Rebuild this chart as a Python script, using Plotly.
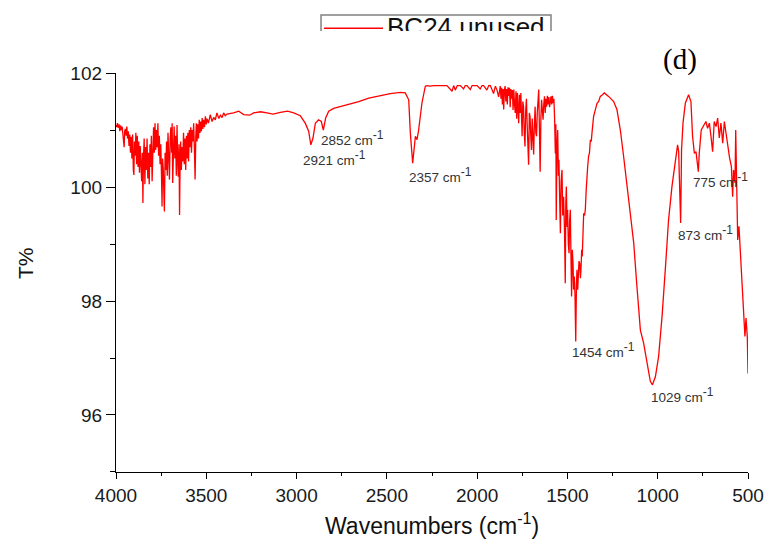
import plotly.graph_objects as go

# FTIR spectrum of BC24 (unused): wavenumber (cm-1) and transmittance (%)
wavenumber = [
    # O-H stretching region
    4000, 3996, 3992, 3988, 3983, 3979, 3975, 3970, 3966, 3962, 3958, 3955, 3952, 3948, 3944,
    3940, 3936, 3932, 3928, 3924, 3920, 3916, 3912, 3908, 3904, 3901, 3898, 3894, 3890, 3886,
    3882, 3878, 3874, 3870, 3866, 3862, 3858, 3854, 3851, 3848, 3844, 3840, 3836, 3832, 3828,
    3824, 3820, 3816, 3812, 3808, 3804, 3800, 3796, 3792, 3788, 3784, 3780, 3776, 3772, 3768,
    3764, 3760, 3756, 3752, 3748, 3745, 3742, 3738, 3735, 3732, 3728, 3724, 3720, 3716, 3712,
    3708, 3704, 3700, 3696, 3692, 3689, 3686, 3682, 3678, 3674, 3670, 3666, 3662, 3658, 3655,
    3651, 3648, 3645, 3642, 3638, 3634, 3630, 3626, 3622, 3618, 3614, 3610, 3606, 3602, 3598,
    3594, 3590, 3586, 3582, 3578, 3574, 3570, 3566, 3562, 3558, 3555, 3551, 3547, 3543, 3539,
    3535, 3531, 3527, 3523, 3519, 3515, 3510, 3505, 3500, 3496, 3488, 3478, 3468, 3459, 3450,
    3441, 3430, 3422, 3412, 3404, 3395, 3385, 3349, 3320, 3293, 3260, 3238, 3200, 3164, 3130,
    3090, 3050, 3016, 2979, 2952, 2933, 2921, 2909, 2896, 2878, 2863, 2852, 2839, 2822, 2795,
    2721, 2656, 2600, 2555, 2481, 2425, 2398, 2379, 2370, 2357, 2350, 2342, 2333, 2324, 2306,
    2287, 2278, 2259, 2241, 2222, 2190, 2167, 2139, 2130, 2121, 2110, 2093, 2075, 2066, 2056,
    2038, 2028, 2019, 2000, 1983, 1973, 1964, 1946, 1936, 1927, 1909, 1899, 1890, 1881,
    # C=O / aromatic region
    1872, 1868, 1864, 1860, 1856, 1853, 1849, 1845, 1841, 1837, 1833, 1829, 1825, 1821, 1817,
    1813, 1809, 1805, 1801, 1797, 1793, 1789, 1785, 1781, 1777, 1773, 1770, 1766, 1762, 1758,
    1754, 1751, 1747, 1743, 1739, 1735, 1731, 1727, 1723, 1719, 1715, 1711, 1707, 1703, 1699,
    1695, 1691, 1687, 1683, 1679, 1675, 1671, 1667, 1663, 1659, 1655, 1651, 1647, 1643, 1639,
    1635, 1631, 1627, 1623, 1619, 1615, 1611, 1607, 1603, 1599, 1595, 1591, 1587, 1583, 1579,
    1575, 1571, 1567, 1564, 1562, 1558, 1554, 1550, 1547, 1543, 1539, 1535, 1530, 1526, 1521,
    1516, 1512, 1509, 1506, 1502, 1499, 1495, 1491, 1488, 1484, 1480, 1477, 1473, 1469, 1466,
    1462, 1458, 1454, 1450, 1447, 1443, 1440, 1436, 1432, 1428, 1425, 1421, 1418, 1414, 1410,
    1405, 1401, 1396, 1392, 1388, 1383, 1378, 1373, 1368, 1364, 1360, 1355, 1346, 1336, 1327,
    1318, 1306, 1296, 1272, 1244, 1226, 1207, 1189, 1170, 1152, 1133, 1115,
    # fingerprint region
    1096, 1078, 1060, 1041, 1029, 1013, 995, 976, 958, 940, 921, 903, 890, 884, 873,
    868, 860, 847, 829, 816, 807, 797, 788, 775, 770, 759, 746, 733, 724, 714,
    705, 696, 687, 677, 668, 659, 650, 640, 631, 622, 613, 602, 592, 585, 580,
    572, 568, 563, 557, 550, 543, 533, 524, 517, 511, 504, 500,
]
transmittance = [
    101.09, 101.05, 101.12, 101.04, 101.10, 100.98, 101.08, 101.00, 101.06, 100.95, 100.80, 100.70, 100.98, 101.02, 100.90,
    101.06, 100.85, 100.98, 100.72, 100.92, 100.60, 100.88, 100.50, 100.92, 100.30, 100.21, 100.80, 100.55, 100.95, 100.40,
    100.90, 100.35, 100.80, 100.25, 100.72, 100.45, 100.10, 100.60, 99.72, 100.50, 100.85, 100.05, 100.70, 100.30, 100.85,
    100.15, 100.60, 100.05, 100.75, 100.35, 100.90, 100.10, 100.80, 101.05, 100.60, 101.12, 100.65, 101.00, 100.70, 101.12,
    100.55, 100.90, 100.40, 100.75, 100.20, 99.66, 100.50, 100.30, 99.90, 99.57, 100.60, 100.30, 100.80, 100.20, 100.95,
    100.45, 100.13, 100.85, 101.05, 100.60, 101.12, 100.07, 100.70, 101.06, 100.50, 100.90, 100.20, 101.09, 100.40, 100.18,
    100.75, 99.51, 100.40, 100.80, 100.30, 100.70, 100.45, 100.95, 100.40, 100.85, 100.30, 100.90, 100.50, 100.95, 100.45,
    101.00, 100.70, 101.05, 100.60, 101.00, 100.80, 101.12, 100.70, 100.13, 100.90, 101.12, 100.80, 101.10, 100.85, 101.18,
    100.95, 101.15, 100.98, 101.21, 101.02, 101.18, 101.05, 101.24, 101.10, 101.20, 101.12, 101.27, 101.15, 101.22, 101.18,
    101.30, 101.20, 101.26, 101.22, 101.30, 101.25, 101.28, 101.30, 101.33, 101.27, 101.26, 101.30, 101.32, 101.30, 101.28,
    101.31, 101.33, 101.30, 101.25, 101.12, 100.98, 100.74, 100.86, 101.12, 101.18, 101.15, 101.00, 101.21, 101.33, 101.38,
    101.44, 101.50, 101.56, 101.59, 101.64, 101.66, 101.65, 101.53, 100.95, 100.42, 100.71, 100.89, 100.83, 101.00, 101.47,
    101.77, 101.78, 101.77, 101.78, 101.78, 101.78, 101.78, 101.68, 101.78, 101.70, 101.78, 101.78, 101.72, 101.78, 101.78,
    101.71, 101.78, 101.78, 101.78, 101.72, 101.78, 101.78, 101.70, 101.78, 101.78, 101.64, 101.77, 101.70, 101.58,
    101.77, 101.55, 101.74, 101.45, 101.72, 101.36, 101.70, 101.77, 101.50, 101.72, 101.45, 101.75, 101.60, 101.74, 101.40,
    101.72, 101.55, 101.70, 101.35, 101.71, 101.45, 101.30, 101.68, 101.20, 101.65, 101.40, 101.12, 101.62, 101.30, 101.65,
    101.05, 100.89, 101.50, 101.41, 100.95, 100.71, 101.35, 101.55, 101.10, 100.80, 100.39, 101.30, 101.24, 100.90, 100.65,
    101.20, 100.85, 100.57, 101.10, 101.41, 100.95, 100.89, 101.30, 101.55, 101.71, 101.00, 100.27, 101.20, 101.53, 101.35,
    101.18, 101.45, 101.59, 101.30, 101.55, 101.41, 101.60, 101.45, 101.58, 101.40, 101.52, 101.59, 101.45, 101.60, 101.47,
    101.55, 101.20, 100.59, 101.10, 99.42, 100.70, 101.00, 100.20, 100.48, 99.80, 99.19, 100.10, 100.30, 99.50, 99.83,
    99.20, 98.31, 99.70, 100.01, 99.30, 99.60, 99.00, 98.84, 99.40, 99.60, 98.70, 98.08, 98.90, 98.66, 98.20,
    98.43, 98.10, 97.29, 98.30, 98.55, 98.20, 98.37, 98.70, 98.66, 98.40, 98.55, 98.90, 98.78, 99.20, 99.54,
    99.50, 99.60, 99.95, 100.30, 100.35, 100.54, 100.60, 100.83, 100.80, 100.95, 101.10, 101.24, 101.35, 101.47, 101.50,
    101.59, 101.62, 101.65, 101.59, 101.50, 101.36, 101.00, 100.54, 100.01, 99.60, 99.02, 98.25,
    97.49, 97.26, 96.91, 96.59, 96.53, 96.67, 97.03, 97.73, 98.55, 99.42, 100.01, 100.48, 100.74, 100.62, 99.37,
    100.65, 101.12, 101.47, 101.62, 101.50, 100.89, 100.59, 100.62, 100.27, 100.59, 101.00, 101.09, 101.15, 101.03, 101.12,
    100.89, 100.62, 101.15, 101.06, 101.21, 100.86, 101.12, 100.77, 101.15, 100.95, 100.71, 100.51, 100.36, 99.83, 100.30,
    100.07, 101.00, 99.72, 99.07, 99.31, 98.90, 98.43, 97.73, 97.38, 97.70, 97.38, 96.73,
]

# Assigned bands and where their labels sit (wavenumber, T%)
peaks = [2852, 2921, 2357, 1454, 1029, 873, 775]
label_wn = [2874, 2974, 2388, 1485, 1048, 898, 815]
label_t = [100.86, 100.51, 100.21, 97.14, 96.35, 99.20, 100.13]

series_name = "BC24 unused"
panel_tag = "(d)"
x_ticks = [4000, 3500, 3000, 2500, 2000, 1500, 1000, 500]
y_ticks = [96, 98, 100, 102]

RED = "#ff0000"
SANS = "Liberation Sans, Arial, sans-serif"

fig = go.Figure()

fig.add_trace(go.Scatter(
    x=wavenumber, y=transmittance, mode="lines",
    line=dict(color=RED, width=1.3), name=series_name,
    showlegend=False, xaxis="x", yaxis="y",
))

# Legend strip: a small clipped subplot holding the sample line and the name
fig.add_trace(go.Scatter(
    x=[66], y=[1.5], mode="text", text=[series_name],
    textposition="middle right", cliponaxis=True,
    textfont=dict(family=SANS, size=26, color="#111111"),
    showlegend=False, hoverinfo="skip", xaxis="x2", yaxis="y2",
))

shapes = [
    dict(type="rect", xref="x2", yref="y2", x0=0, x1=230, y0=-8, y1=16,
         line=dict(color="#808080", width=1.5), fillcolor="rgba(0,0,0,0)"),
    dict(type="line", xref="x2", yref="y2", x0=3, x1=62, y0=2.7, y1=2.7,
         line=dict(color=RED, width=1.5)),
]

annotations = []
for wn, lx, ly in zip(peaks, label_wn, label_t):
    annotations.append(dict(
        x=lx, y=ly, xref="x", yref="y",
        text=f"{wn} cm<sup><span style='font-size:12px'>-1</span></sup>",
        showarrow=False, xanchor="left", yanchor="middle",
        font=dict(family=SANS, size=13.5, color="#333333"),
    ))

annotations += [
    dict(x=0.8924, y=0.875, xref="paper", yref="paper", text=panel_tag,
         showarrow=False, xanchor="center", yanchor="middle",
         font=dict(family="Liberation Serif, Times New Roman, serif", size=29, color="black")),
    dict(x=0.5, y=-0.110, xref="paper", yref="paper",
         text="Wavenumbers (cm<sup>-1</sup>)", showarrow=False,
         xanchor="center", yanchor="middle",
         font=dict(family=SANS, size=23, color="#111111")),
    dict(x=-0.1424, y=0.4428, xref="paper", yref="paper", text="T%",
         textangle=-90, showarrow=False, xanchor="center", yanchor="middle",
         font=dict(family=SANS, size=21, color="#111111")),
]

fig.update_layout(
    width=767, height=539,
    margin=dict(l=116, r=19, t=0, b=67, autoexpand=False),
    paper_bgcolor="white", plot_bgcolor="white",
    showlegend=False,
    shapes=shapes, annotations=annotations,
    xaxis=dict(
        domain=[0, 1], anchor="y", range=[4000, 500], automargin=False,
        tickmode="array", tickvals=x_ticks,
        ticks="outside", ticklen=6, tickwidth=1.3, tickcolor="black",
        minor=dict(dtick=250, ticks="outside", ticklen=3, tickwidth=1.3, tickcolor="black"),
        showline=True, linecolor="black", linewidth=1.3,
        showgrid=False, zeroline=False,
        tickfont=dict(family=SANS, size=19, color="#1a1a1a"),
    ),
    yaxis=dict(
        domain=[0, 0.8453], anchor="x", range=[95, 102], automargin=False,
        tickmode="array", tickvals=y_ticks,
        ticks="outside", ticklen=9, tickwidth=1.3, tickcolor="black",
        minor=dict(dtick=1, ticks="outside", ticklen=5, tickwidth=1.3, tickcolor="black"),
        showline=True, linecolor="black", linewidth=1.3,
        showgrid=False, zeroline=False,
        tickfont=dict(family=SANS, size=19, color="#1a1a1a"),
    ),
    xaxis2=dict(domain=[0.3165, 0.6962], anchor="y2", range=[-5, 235],
                visible=False, automargin=False),
    yaxis2=dict(domain=[0.9343, 0.9746], anchor="x2", range=[0, 19],
                visible=False, automargin=False),
)

fig.write_html("out.html")
